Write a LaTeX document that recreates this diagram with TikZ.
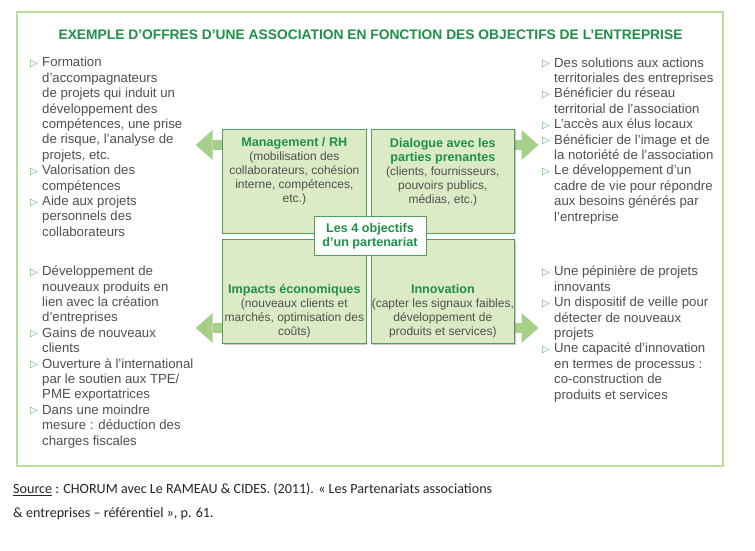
\documentclass[tikz,border=0pt]{standalone}
\usepackage{fontspec}
\setmainfont{Liberation Sans}
\newfontfamily\dejavu{DejaVu Sans}
\newfontfamily\calib{Carlito}
\usetikzlibrary{shadows,calc}
\definecolor{framec}{HTML}{BADF9C}
\definecolor{titlec}{HTML}{1E9048}
\definecolor{boxfill}{HTML}{DCEBC5}
\definecolor{boxdraw}{HTML}{4E9E5E}
\definecolor{arrowc}{HTML}{A6D08A}
\definecolor{txtc}{HTML}{505050}
\definecolor{bulc}{HTML}{5DB35D}
\newcommand{\bul}{\makebox[12pt][l]{\raisebox{0.3pt}{\dejavu\fontsize{10}{8}\selectfont\color{bulc}▷}}}
\newcommand{\bt}[1]{{\bfseries\fontsize{12.6}{14}\selectfont\color{titlec}#1}}
\tikzset{
  qbox/.style={draw=boxdraw, fill=boxfill, line width=1pt, minimum width=143.3pt, minimum height=104pt, inner sep=0pt,
    drop shadow={shadow xshift=1.2pt, shadow yshift=-1.2pt, opacity=0.35, fill=black!60}},
  cbox/.style={draw=boxdraw, fill=white, line width=1pt, minimum width=112pt, minimum height=38.3pt, inner sep=0pt,
    drop shadow={shadow xshift=1.2pt, shadow yshift=-1.2pt, opacity=0.35, fill=black!60}},
  btext/.style={align=center, inner sep=0pt, text=txtc, font=\fontsize{12}{14}\selectfont},
  ltext/.style={anchor=west, inner sep=0pt, text=txtc, font=\fontsize{13.2}{15.4}\selectfont},
  framebox/.style={draw=framec, line width=1.6pt, minimum width=706pt, minimum height=454pt, inner sep=0pt},
  arr/.style={fill=arrowc}
}
\begin{document}
\begin{tikzpicture}[x=1pt,y=-1pt]
\fill[white] (0,0) rectangle (755,551);
\useasboundingbox (0,0) rectangle (755,551);
\node[framebox] (frame) at (370,239) {};
\node[text=titlec, font=\bfseries\fontsize{13.8}{15}\selectfont, inner sep=0pt] (title) at (370.5,35) {EXEMPLE D’OFFRES D’UNE ASSOCIATION EN FONCTION DES OBJECTIFS DE L’ENTREPRISE};

% coordinates for boxes
\coordinate (tlc) at (294.35,181);
\coordinate (trc) at (442.85,181);
\coordinate (blc) at (294.35,291.5);
\coordinate (brc) at (442.85,291.5);

% arrows (under boxes)
\path (tlc) ++(-71.65,-52) coordinate (tlnw);
\path (trc) ++(71.65,-52) coordinate (trne);
\path (blc) ++(-71.65,-51.5) coordinate (blnw);
\path (brc) ++(71.65,-51.5) coordinate (brne);
\fill[arr] ($(tlnw)+(4,11)$) rectangle ($(tlnw)+(-10,21)$);
\fill[arr] ($(tlnw)+(-10,1)$) -- ($(tlnw)+(-27,16)$) -- ($(tlnw)+(-10,31)$) -- cycle;
\fill[arr] ($(trne)+(-4,11)$) rectangle ($(trne)+(7,21)$);
\fill[arr] ($(trne)+(7,1)$) -- ($(trne)+(24,16)$) -- ($(trne)+(7,31)$) -- cycle;
\fill[arr] ($(blnw)+(4,83)$) rectangle ($(blnw)+(-10,93)$);
\fill[arr] ($(blnw)+(-10,73)$) -- ($(blnw)+(-27,88)$) -- ($(blnw)+(-10,103)$) -- cycle;
\fill[arr] ($(brne)+(-4,83)$) rectangle ($(brne)+(7,93)$);
\fill[arr] ($(brne)+(7,73)$) -- ($(brne)+(24,88)$) -- ($(brne)+(7,103)$) -- cycle;

\node[qbox] (tl) at (tlc) {};
\node[qbox] (tr) at (trc) {};
\node[qbox] (bl) at (blc) {};
\node[qbox] (br) at (brc) {};

\node[btext] (tlt) at (294.35,171.5) {\bt{Management / RH}\\(mobilisation des\\collaborateurs, cohésion\\interne, compétences,\\etc.)};
\node[btext] (trt) at (442.85,172) {\bt{Dialogue avec les}\\\bt{parties prenantes}\\(clients, fournisseurs,\\pouvoirs publics,\\médias, etc.)};
\node[btext] (blt) at (294.35,311) {\bt{Impacts économiques}\\(nouveaux clients et\\marchés, optimisation des\\coûts)};
\node[btext] (brt) at (442.85,311) {\bt{Innovation}\\(capter les signaux faibles,\\développement de\\produits et services)};

\node[cbox] (ctr) at (370,236) {};
\node[btext, font=\bfseries\fontsize{12.6}{14}\selectfont, text=titlec] (ctrt) at (370,236) {Les 4 objectifs\\d’un partenariat};

% lists
\node[ltext] (l1) at (30,148.5) {\begin{tabular}{@{}l@{}l@{}}
\bul & Formation\\
 & d’accompagnateurs\\
 & de projets qui induit un\\
 & développement des\\
 & compétences, une prise\\
 & de risque, l’analyse de\\
 & projets, etc.\\
\bul & Valorisation des\\
 & compétences\\
\bul & Aide aux projets\\
 & personnels des\\
 & collaborateurs
\end{tabular}};
\node[ltext] (l2) at (30,357.3) {\begin{tabular}{@{}l@{}l@{}}
\bul & Développement de\\
 & nouveaux produits en\\
 & lien avec la création\\
 & d’entreprises\\
\bul & Gains de nouveaux\\
 & clients\\
\bul & Ouverture à l’international\\
 & par le soutien aux TPE/\\
 & PME exportatrices\\
\bul & Dans une moindre\\
 & mesure : déduction des\\
 & charges fiscales
\end{tabular}};
\node[ltext] (r1) at (542,141) {\begin{tabular}{@{}l@{}l@{}}
\bul & Des solutions aux actions\\
 & territoriales des entreprises\\
\bul & Bénéficier du réseau\\
 & territorial de l’association\\
\bul & L’accès aux élus locaux\\
\bul & Bénéficier de l’image et de\\
 & la notoriété de l’association\\
\bul & Le développement d’un\\
 & cadre de vie pour répondre\\
 & aux besoins générés par\\
 & l’entreprise
\end{tabular}};
\node[ltext] (r2) at (542,334.5) {\begin{tabular}{@{}l@{}l@{}}
\bul & Une pépinière de projets\\
 & innovants\\
\bul & Un dispositif de veille pour\\
 & détecter de nouveaux\\
 & projets\\
\bul & Une capacité d’innovation\\
 & en termes de processus :\\
 & co-construction de\\
 & produits et services
\end{tabular}};

\node[anchor=west, inner sep=0pt, align=left, font=\calib\fontsize{14.1}{24}\selectfont, text=black!85] (src) at (13,501.5) {\underline{Source} : CHORUM avec Le RAMEAU \& CIDES. (2011). « Les Partenariats associations\\\& entreprises – référentiel », p. 61.};
\end{tikzpicture}
\end{document}
